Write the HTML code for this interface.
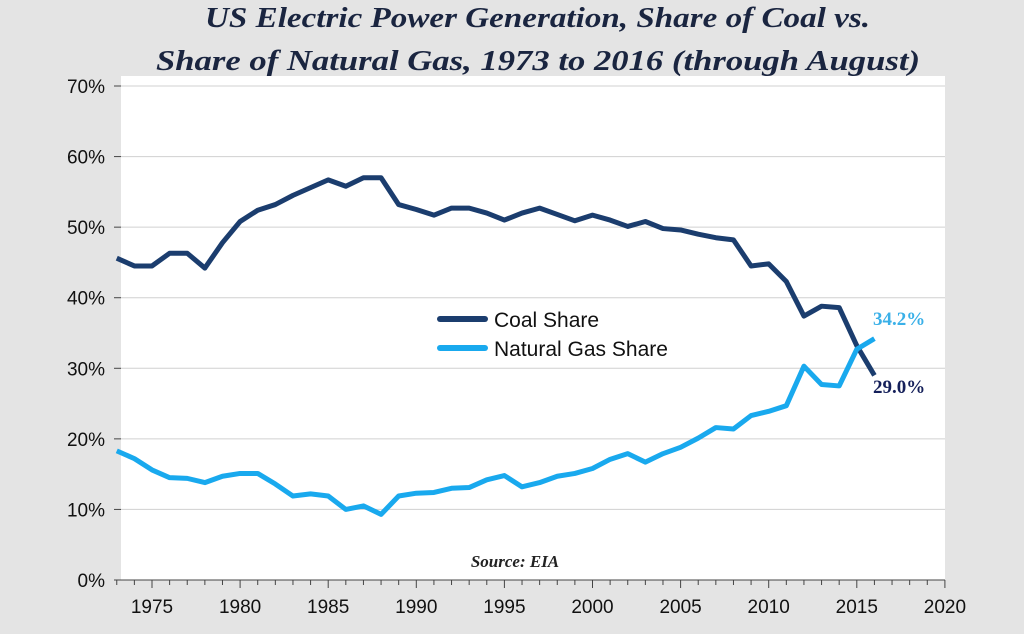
<!DOCTYPE html>
<html><head><meta charset="utf-8"><style>
body{margin:0;width:1024px;height:629px;background:#e4e4e4;overflow:hidden;font-family:"Liberation Sans",sans-serif}
</style></head><body>
<svg width="1024" height="629">
<rect x="121" y="76" width="824" height="504" fill="#fff"/>
<text x="205" y="27" textLength="665" lengthAdjust="spacingAndGlyphs" font-family="Liberation Serif" font-style="italic" font-weight="bold" font-size="28" fill="#1a2540">US Electric Power Generation, Share of Coal vs.</text>
<text x="156" y="70" textLength="764" lengthAdjust="spacingAndGlyphs" font-family="Liberation Serif" font-style="italic" font-weight="bold" font-size="28" fill="#1a2540">Share of Natural Gas, 1973 to 2016 (through August)</text>
<g id="grid"></g><g id="axes"></g><g id="lines"></g>
<text x="515" y="567" text-anchor="middle" font-family="Liberation Serif" font-style="italic" font-weight="bold" font-size="17" fill="#222">Source: EIA</text>
<line x1="440" y1="319" x2="485" y2="319" stroke="#1b3d6e" stroke-width="6" stroke-linecap="round"/>
<text x="494" y="327" font-size="21" fill="#111">Coal Share</text>
<line x1="440" y1="348" x2="485" y2="348" stroke="#19a9ee" stroke-width="6" stroke-linecap="round"/>
<text x="494" y="356" font-size="21" fill="#111">Natural Gas Share</text>
<text x="873" y="325" font-family="Liberation Serif" font-weight="bold" font-size="19" fill="#3ab0e8">34.2%</text>
<text x="873" y="393" font-family="Liberation Serif" font-weight="bold" font-size="19" fill="#15205a">29.0%</text>
</svg>
<script>
const years=[1973,1974,1975,1976,1977,1978,1979,1980,1981,1982,1983,1984,1985,1986,1987,1988,1989,1990,1991,1992,1993,1994,1995,1996,1997,1998,1999,2000,2001,2002,2003,2004,2005,2006,2007,2008,2009,2010,2011,2012,2013,2014,2015,2016];
const coalShare=[45.6,44.5,44.5,46.3,46.3,44.2,47.8,50.8,52.4,53.2,54.5,55.6,56.7,55.8,57,57,53.2,52.5,51.7,52.7,52.7,52.0,51.0,52.0,52.7,51.8,50.9,51.7,51.0,50.1,50.8,49.8,49.6,49.0,48.5,48.2,44.5,44.8,42.3,37.4,38.8,38.6,33.2,29.0];
const gasShare=[18.3,17.2,15.6,14.5,14.4,13.8,14.7,15.1,15.1,13.6,11.9,12.2,11.9,10.0,10.5,9.3,11.9,12.3,12.4,13.0,13.1,14.2,14.8,13.2,13.8,14.7,15.1,15.8,17.1,17.9,16.7,17.9,18.8,20.1,21.6,21.4,23.3,23.9,24.7,30.3,27.7,27.5,32.7,34.2];
const yTicks=[0,10,20,30,40,50,60,70];
const xTicks=[1975,1980,1985,1990,1995,2000,2005,2010,2015,2020];
const NS='http://www.w3.org/2000/svg';
const xs=y=>152+(y-1975)*17.62, ys=v=>580-v*7.057;
function mk(t,a,p){const e=document.createElementNS(NS,t);for(const k in a)e.setAttribute(k,a[k]);p.appendChild(e);return e;}
const grid=document.getElementById('grid'),axes=document.getElementById('axes'),lines=document.getElementById('lines');
yTicks.forEach(v=>{
 if(v>0){const g=mk('line',{x1:121,x2:945,y1:ys(v),y2:ys(v),stroke:'#d0d0d0','stroke-width':1},grid);
 
 }
 mk('line',{x1:114,x2:121,y1:ys(v),y2:ys(v),stroke:'#444'},axes);
 const t=mk('text',{x:105,y:ys(v)+7,'text-anchor':'end','font-size':19,fill:'#111'},axes);t.textContent=v+'%';
 
 
});
mk('line',{x1:121,x2:945,y1:580,y2:580,stroke:'#444'},axes);
for(let y=1973;y<=2020;y++){mk('line',{x1:xs(y),x2:xs(y),y1:580,y2:y%5==0?588:585,stroke:'#444'},axes);}
xTicks.forEach(y=>{const t=mk('text',{x:xs(y),y:613,'text-anchor':'middle','font-size':19,fill:'#111'},axes);t.textContent=y;
 
 });
function line(d,c,n){const p=mk('polyline',{points:years.map((y,i)=>xs(y)+','+ys(d[i])).join(' '),fill:'none',stroke:c,'stroke-width':5,'stroke-linejoin':'round'},lines);
 
 }
line(coalShare,'#1b3d6e','coal-share-line');
line(gasShare,'#19a9ee','gas-share-line');
</script>
</body></html>
